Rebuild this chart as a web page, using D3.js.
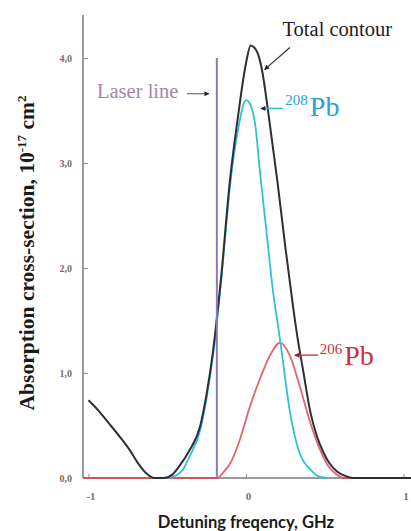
<!DOCTYPE html>
<html>
<head>
<meta charset="utf-8">
<script src="https://cdn.jsdelivr.net/npm/d3@7"></script>
<style>
  body { margin: 0; background: #fff; }
</style>
</head>
<body>
<div id="chart"></div>
<script>
// Data: [detuning GHz, cross-section 1e-17 cm2]

const totalContour = [
  [-1.0, 0.74], [-0.93, 0.63], [-0.87, 0.52], [-0.80, 0.39], [-0.74, 0.27],
  [-0.68, 0.13], [-0.63, 0.04], [-0.58, 0.0], [-0.52, 0.0], [-0.47, 0.03],
  [-0.42, 0.12], [-0.36, 0.26], [-0.29, 0.50], [-0.25, 0.80], [-0.21, 1.20],
  [-0.16, 1.88], [-0.10, 2.86], [-0.05, 3.45], [0.0, 3.95], [0.03, 4.12],
  [0.07, 4.06], [0.10, 3.90], [0.14, 3.50], [0.20, 2.82], [0.25, 2.20],
  [0.30, 1.62], [0.33, 1.31], [0.36, 1.05], [0.41, 0.62], [0.45, 0.40],
  [0.49, 0.25], [0.53, 0.14], [0.58, 0.06], [0.63, 0.02], [0.68, 0.0],
  [1.048, 0.0]
];

const pb208 = [
  [-0.50, 0.0], [-0.45, 0.02], [-0.40, 0.08], [-0.36, 0.20], [-0.29, 0.46],
  [-0.25, 0.76], [-0.21, 1.16], [-0.16, 1.84], [-0.10, 2.80], [-0.05, 3.32],
  [0.0, 3.60], [0.03, 3.55], [0.06, 3.35], [0.09, 2.90], [0.13, 2.35],
  [0.17, 1.80], [0.217, 1.31], [0.24, 1.05], [0.28, 0.62], [0.34, 0.24],
  [0.41, 0.08], [0.47, 0.01], [0.52, 0.0]
];

const pb206 = [
  [-1.035, 0.0], [-0.185, 0.0], [-0.14, 0.06], [-0.10, 0.14], [-0.04, 0.36],
  [0.025, 0.68], [0.09, 0.95], [0.15, 1.16], [0.217, 1.29], [0.28, 1.16],
  [0.34, 0.88], [0.41, 0.52], [0.47, 0.27], [0.52, 0.12], [0.57, 0.04],
  [0.62, 0.0], [1.048, 0.0]
];

const laserFreq = -0.185;
const laserTop = 4.0;

const xTicks = [-1, 0, 1];
const yTicks = [0, 1, 2, 3, 4];

const drawChart = () => {
  const margin = {top: 15, right: 0, bottom: 53, left: 83};
  const width = 411;
  const height = 531;
  const innerWidth = width - margin.left - margin.right;
  const innerHeight = height - margin.top - margin.bottom;

  const svg = d3.select("#chart")
    .append("svg")
      .attr("width", width)
      .attr("height", height)
      .attr("viewBox", `0 0 ${width} ${height}`);

  svg.append("rect")
    .attr("width", width)
    .attr("height", height)
    .attr("fill", "#fff");

  const defs = svg.append("defs");
  const addArrow = (id, color) => {
    defs.append("marker")
        .attr("id", id)
        .attr("viewBox", "0 0 10 10")
        .attr("refX", 9)
        .attr("refY", 5)
        .attr("markerWidth", 6)
        .attr("markerHeight", 5)
        .attr("markerUnits", "userSpaceOnUse")
        .attr("orient", "auto")
      .append("path")
        .attr("d", "M0,0 L10,5 L0,10 z")
        .attr("fill", color);
  };
  addArrow("arrow-dark", "#222");
  addArrow("arrow-red", "#8a1f22");

  const innerChart = svg
    .append("g")
      .attr("transform", `translate(${margin.left}, ${margin.top})`);

  const xScale = d3.scaleLinear()
    .domain([-1.035, 1.048])
    .range([0, innerWidth]);

  const yScale = d3.scaleLinear()
    .domain([0, 4.41])
    .range([innerHeight, 0]);

  const commaLocale = d3.formatLocale({decimal: ",", thousands: ".", grouping: [3], currency: ["", ""]});
  const axisGray = "#9a9a9a";

  // y axis, ticks pointing inside
  const leftAxis = d3.axisLeft(yScale)
    .tickValues(yTicks)
    .tickSize(-5)
    .tickPadding(11)
    .tickFormat(commaLocale.format(".1f"));
  const yAxisG = innerChart.append("g")
      .attr("class", "axis-y")
      .call(leftAxis);
  yAxisG.select(".domain").remove();
  innerChart.append("line")
      .attr("x1", 0).attr("x2", 0)
      .attr("y1", 0).attr("y2", innerHeight)
      .attr("stroke", axisGray)
      .attr("stroke-width", 2);

  // x axis, ticks pointing up
  const bottomAxis = d3.axisBottom(xScale)
    .tickValues(xTicks)
    .tickSize(-4)
    .tickPadding(14)
    .tickFormat(d => d === 0 ? "0" : d3.format("d")(d).replace("−", "-"));
  const xAxisG = innerChart.append("g")
      .attr("class", "axis-x")
      .attr("transform", `translate(0, ${innerHeight})`)
      .call(bottomAxis);
  xAxisG.select(".domain").remove();

  d3.selectAll(".axis-x line, .axis-y line")
    .attr("stroke", axisGray)
    .attr("stroke-width", 1.2);
  d3.selectAll(".axis-y text, .axis-x text")
    .attr("fill", "#707070")
    .style("font-family", "'Liberation Serif', serif")
    .style("font-weight", "bold")
    .style("font-size", "10px");
  d3.selectAll(".axis-x text")
    .attr("dx", 2)
    .style("font-size", "11px");

  const lineGenerator = d3.line()
    .x(d => xScale(d[0]))
    .y(d => yScale(d[1]))
    .curve(d3.curveMonotoneX);

  // baseline under the curves
  innerChart.append("line")
      .attr("x1", 0).attr("x2", innerWidth)
      .attr("y1", innerHeight).attr("y2", innerHeight)
      .attr("stroke", axisGray)
      .attr("stroke-width", 2);

  innerChart.append("path")
      .attr("d", lineGenerator(pb206))
      .attr("fill", "none")
      .attr("stroke", "#de4a52")
      .attr("stroke-width", 1.8)
      .attr("opacity", 0.85);

  innerChart.append("path")
      .attr("d", lineGenerator(pb208))
      .attr("fill", "none")
      .attr("stroke", "#2ec0dc")
      .attr("stroke-width", 1.8);

  innerChart.append("path")
      .attr("d", lineGenerator(totalContour))
      .attr("fill", "none")
      .attr("stroke", "#2e2e35")
      .attr("stroke-width", 2);

  // laser line
  innerChart.append("line")
      .attr("x1", xScale(laserFreq)).attr("x2", xScale(laserFreq))
      .attr("y1", yScale(laserTop)).attr("y2", yScale(0))
      .attr("stroke", "#8b78c0")
      .attr("stroke-width", 2);

  const serif = "'Liberation Serif', 'Times New Roman', serif";

  // Laser line label
  innerChart.append("text")
      .text("Laser line")
      .attr("x", xScale(-0.946))
      .attr("y", yScale(3.62))
      .attr("fill", "#a685ad")
      .style("font-family", serif)
      .style("font-size", "20.5px");
  innerChart.append("line")
      .attr("x1", xScale(-0.375)).attr("x2", xScale(-0.235))
      .attr("y1", yScale(3.66)).attr("y2", yScale(3.66))
      .attr("stroke", "#555")
      .attr("stroke-width", 1)
      .attr("marker-end", "url(#arrow-dark)");

  // Total contour label
  innerChart.append("text")
      .text("Total contour")
      .attr("x", xScale(0.232))
      .attr("y", yScale(4.21))
      .attr("fill", "#1e1e1e")
      .style("font-family", serif)
      .style("font-size", "20.5px");
  innerChart.append("line")
      .attr("x1", xScale(0.279)).attr("y1", yScale(4.10))
      .attr("x2", xScale(0.118)).attr("y2", yScale(3.89))
      .attr("stroke", "#333")
      .attr("stroke-width", 1.2)
      .attr("marker-end", "url(#arrow-dark)");

  // 208Pb label
  innerChart.append("line")
      .attr("x1", xScale(0.235)).attr("x2", xScale(0.095))
      .attr("y1", yScale(3.52)).attr("y2", yScale(3.52))
      .attr("stroke", "#2ec0dc")
      .attr("stroke-width", 1.5)
      .attr("marker-end", "url(#arrow-dark)");
  const t208 = innerChart.append("text")
      .attr("x", xScale(0.25))
      .attr("y", yScale(3.45))
      .attr("fill", "#2a9fd4")
      .style("font-family", serif);
  t208.append("tspan")
      .text("208")
      .attr("dy", -11)
      .style("font-size", "15px");
  t208.append("tspan")
      .text("Pb")
      .attr("dx", 2)
      .attr("dy", 11)
      .style("font-size", "28px");

  // 206Pb label
  innerChart.append("line")
      .attr("x1", xScale(0.457)).attr("x2", xScale(0.31))
      .attr("y1", yScale(1.17)).attr("y2", yScale(1.17))
      .attr("stroke", "#d8434b")
      .attr("stroke-width", 1.5)
      .attr("marker-end", "url(#arrow-red)");
  const t206 = innerChart.append("text")
      .attr("x", xScale(0.468))
      .attr("y", yScale(1.08))
      .attr("fill", "#c9323b")
      .style("font-family", serif);
  t206.append("tspan")
      .text("206")
      .attr("dy", -11)
      .style("font-size", "15px");
  t206.append("tspan")
      .text("Pb")
      .attr("dx", 2)
      .attr("dy", 11)
      .style("font-size", "28px");

  // axis titles
  const yTitle = svg.append("text")
      .attr("transform", `translate(34, 253) rotate(-90)`)
      .attr("text-anchor", "middle")
      .attr("fill", "#1a1a1a")
      .style("font-family", serif)
      .style("font-weight", "bold")
      .style("font-size", "21.5px");
  yTitle.append("tspan").text("Absorption cross-section, 10");
  yTitle.append("tspan").text("-17").attr("dy", -8).style("font-size", "13px");
  yTitle.append("tspan").text(" cm").attr("dy", 8);
  yTitle.append("tspan").text("2").attr("dy", -8).style("font-size", "13px");

  svg.append("text")
      .text("Detuning freqency, GHz")
      .attr("x", margin.left + xScale(0))
      .attr("y", 528)
      .attr("text-anchor", "middle")
      .attr("fill", "#1a1a1a")
      .style("font-family", "Lato, 'Open Sans', sans-serif")
      .style("font-weight", "bold")
      .style("font-size", "16.5px");
};

drawChart();
</script>
</body>
</html>
